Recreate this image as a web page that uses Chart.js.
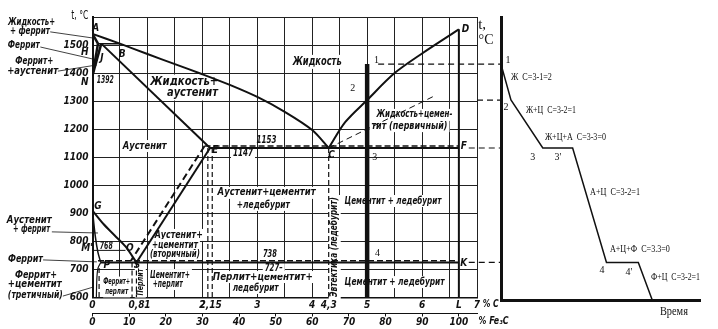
<!DOCTYPE html>
<html>
<head>
<meta charset="utf-8">
<script src="https://cdn.jsdelivr.net/npm/chart.js@4.4.1/dist/chart.umd.min.js"></script>
<style>
html, body { margin: 0; padding: 0; background: #fff; }
#wrap { position: relative; width: 718px; height: 329px; }
canvas { position: absolute; left: 0; top: 0; }
</style>
</head>
<body>
<div id="wrap">
  <canvas id="diagram" width="718" height="329"></canvas>
  <canvas id="cooling" width="718" height="329"></canvas>
</div>
<script>
// phase lines of the Fe-Fe3C diagram, [% C, t °C]
var liquidusAC = [[0,1540],[0.5,1505],[1,1468],[1.5,1432],[2,1396],[2.5,1358],[3,1315],[3.5,1262],[4,1197],[4.3,1133]];
var liquidusCD = [[4.3,1133],[4.6,1225],[5,1304],[5.5,1400],[6,1470],[6.67,1556]];
var graphiteCD = [[4.3,1133],[6.26,1322]];
var solidusJE = [[0.16,1505],[2.14,1133]];
var peritectic = [[0.1,1505],[0.51,1505]];
var deltaAH = [[0,1540],[0.1,1505]];
var deltaHN = [[0.1,1505],[0,1392]];
var deltaJN = [[0.16,1505],[0,1392]];
var lineES = [[2.14,1133],[0.8,725]];
var lineES2 = [[2.04,1140],[0.7,731]];
var lineGS = [[0,910],[0.2,862],[0.4,822],[0.6,782],[0.8,725]];
var lineGP = [[0,910],[0.05,820],[0.1,760],[0.15,725]];
var linePQ = [[0.15,725],[0.1,705],[0.08,670],[0.07,600]];
var lineMO = [[0,768],[0.6,768]];
var eutectic = [[2.14,1133],[6.67,1133]];
var eutectic2 = [[2.04,1140],[6.67,1140]];
var eutectoid = [[0.15,725],[6.67,725]];
var eutectoid2 = [[0.1,731],[6.67,731]];
var lineDL = [[6.67,1556],[6.67,600]];
var dashedVerticals = [
  [[2.1,1133],[2.1,600]], [[2.18,1133],[2.18,600]], [[4.3,1133],[4.3,600]],
  [[0.12,705],[0.12,600]], [[0.72,725],[0.72,600]], [[0.8,725],[0.8,600]]
];

// alloy 5 % C and its cooling points
var alloyC = 5;
var alloyLine = [[alloyC,1432],[alloyC,600]];
var connectors = [
  [[5.2,1432],[7.43,1432]], [[7,1304],[7.43,1304]],
  [[6.85,1133],[7.43,1133]], [[6.85,725],[7.43,725]]
];

// leader lines of the left side captions
var leaders = [
  [[-0.77,1547],[0.01,1525]], [[-0.95,1493],[0.01,1450]], [[-0.63,1407],[0.08,1429]],
  [[-0.74,834],[0.1,830]], [[-0.9,734],[0.08,727]], [[-0.54,605],[0.01,637]]
];

// cooling curve
var coolTime = [0, 5, 21, 36, 53, 69, 76];
var coolTemp = [1432, 1304, 1133, 1133, 725, 725, 591];

// axes
var gridC = [0,0.5,1,1.5,2,2.5,3,3.5,4,4.5,5,5.5,6,6.5,7];
var tickC = [0,0.8,1,2,2.15,3,4,4.3,5,6,6.67,7];
var tickLabelC = ['0','0,8','1','2','2,15','3','4','4,3','5','6','L','7'];
var tickFe3C = [0,10,20,30,40,50,60,70,80,90,100];
var tickT = [600,700,800,900,1000,1100,1200,1300,1400,1500,1600];

var sansFam = '"Liberation Sans Narrow","DejaVu Sans Condensed","Liberation Sans",Arial,sans-serif';
var serifFam = '"Liberation Serif","DejaVu Serif",serif';

// captions: text, %C, t, target width, size, white box, rotated
var diagramTexts = [
  {t:'Жидкость+', x:-1.11, y:1582, w:47},
  {t:'+ феррит', x:-1.14, y:1547, w:40},
  {t:'Феррит', x:-1.25, y:1500, w:32},
  {t:'Феррит+', x:-1.06, y:1440, w:38},
  {t:'+аустенит', x:-1.09, y:1407, w:51},
  {t:'Аустенит', x:-1.15, y:876, w:45},
  {t:'+ феррит', x:-1.11, y:841, w:37},
  {t:'Феррит', x:-1.22, y:737, w:35},
  {t:'Феррит+', x:-1.03, y:680, w:42},
  {t:'+цементит', x:-1.05, y:645, w:54},
  {t:'(третичный)', x:-1.04, y:609, w:55},
  {t:'H', x:-0.14, y:1472},
  {t:'N', x:-0.14, y:1368},
  {t:"M'", x:-0.1, y:776},
  {t:'t, °C', x:-0.23, y:1604, w:17, size:12, plain:true},
  {t:'A', x:0.06, y:1561},
  {t:'B', x:0.54, y:1465},
  {t:'J', x:0.17, y:1454},
  {t:'1392', x:0.23, y:1375, w:17},
  {t:'Жидкость+', x:1.67, y:1368, w:68, size:13, box:true},
  {t:'аустенит', x:1.82, y:1329, w:51, size:13, box:true},
  {t:'Жидкость', x:4.09, y:1440, w:49, size:12, box:true},
  {t:'Аустенит', x:0.95, y:1140, w:44, box:true},
  {t:'E', x:2.23, y:1124},
  {t:'C', x:4.35, y:1106},
  {t:'1153', x:3.17, y:1161, w:20},
  {t:'1147', x:2.74, y:1115, w:20, box:true},
  {t:'F', x:6.76, y:1137},
  {t:'D', x:6.79, y:1554},
  {t:'Жидкость+цемен-', x:5.86, y:1251, w:76, box:true},
  {t:'тит (первичный)', x:5.77, y:1211, w:76, box:true},
  {t:'1', x:5.17, y:1447, plain:true, serif:true},
  {t:'2', x:4.74, y:1347, plain:true, serif:true},
  {t:'3', x:5.14, y:1101, plain:true, serif:true},
  {t:'4', x:5.19, y:759, plain:true, serif:true},
  {t:'Аустенит+цементит', x:3.17, y:973, w:98, box:true},
  {t:'+ледебурит', x:3.11, y:930, w:53, box:true},
  {t:'Цементит + ледебурит', x:5.47, y:944, w:97, box:true},
  {t:'Цементит + ледебурит', x:5.5, y:655, w:100, box:true},
  {t:'Эвтектика (ледебурит)', x:4.41, y:780, w:100, size:10, rot:true, box:true},
  {t:'Перлит+цементит+', x:3.1, y:673, w:100, box:true},
  {t:'ледебурит', x:2.97, y:634, w:46, box:true},
  {t:'738', x:3.23, y:755, w:14},
  {t:'727–', x:3.3, y:702, w:18, box:true},
  {t:'K', x:6.76, y:723},
  {t:'Аустенит+', x:1.57, y:823, w:48, box:true},
  {t:'+цементит', x:1.5, y:787, w:46, box:true},
  {t:'(вторичный)', x:1.5, y:752, w:50, box:true},
  {t:'Цементит+', x:1.41, y:680, w:40, box:true},
  {t:'+перлит', x:1.37, y:648, w:30, box:true},
  {t:'Феррит+', x:0.44, y:655, w:27, size:9, box:true},
  {t:'перлит', x:0.44, y:620, w:23, size:9, box:true},
  {t:'Перлит', x:0.87, y:655, w:27, size:9, rot:true, box:true},
  {t:'G', x:0.1, y:923},
  {t:'768', x:0.25, y:781, w:13},
  {t:'O', x:0.68, y:775},
  {t:'P', x:0.26, y:716},
  {t:'S', x:0.81, y:714},
  {t:'% C', x:7.25, y:574, w:16, size:10},
  {t:'% Fe₃C', x:7.3, y:513, w:30, size:10}
];

var coolingTexts = [
  {t:'t,', x:-9.5, y:1571, size:15},
  {t:'°C', x:-7.5, y:1518, size:14},
  {t:'1', x:3.5, y:1447},
  {t:'2', x:2.5, y:1276},
  {t:'3', x:16, y:1101},
  {t:"3'", x:28.6, y:1101},
  {t:'4', x:50.8, y:695},
  {t:"4'", x:64.3, y:691},
  {t:'Ж  С=3-1=2', x:15.3, y:1383, w:41},
  {t:'Ж+Ц  С=3-2=1', x:25.1, y:1268, w:50},
  {t:'Ж+Ц+А  С=3-3=0', x:37.4, y:1172, w:61},
  {t:'А+Ц  С=3-2=1', x:57.3, y:973, w:50},
  {t:'А+Ц+Ф  С=3.3=0', x:69.8, y:773, w:60},
  {t:'Ф+Ц  С=3-2=1', x:87.7, y:673, w:49},
  {t:'Время', x:86.9, y:548, w:28, size:12}
];

function pts(arr) { return arr.map(function(p) { return {x: p[0], y: p[1]}; }); }

function line(arr, w, dash, extra) {
  return Object.assign({
    data: pts(arr), showLine: true, borderColor: '#111', borderWidth: w,
    borderDash: dash || [], pointRadius: 0, fill: false, tension: 0
  }, extra || {});
}

function textPlugin(items, xId, yId, serifDefault, hook) {
  var p = { id: 'texts' + hook };
  p[hook] = function(chart) {
    var ctx = chart.ctx, xs = chart.scales[xId], ys = chart.scales[yId];
    items.forEach(function(it) {
      var px = xs.getPixelForValue(it.x), py = ys.getPixelForValue(it.y);
      var size = it.size || 10;
      var serif = serifDefault || it.serif;
      var style = serif || it.plain ? '' : 'italic bold ';
      ctx.save();
      ctx.font = style + size + 'px ' + (serif ? serifFam : sansFam);
      var mw = ctx.measureText(it.t).width;
      var sx = it.w ? it.w / mw : 1;
      ctx.translate(px, py);
      if (it.rot) ctx.rotate(-Math.PI / 2);
      if (it.box) {
        ctx.fillStyle = '#fff';
        ctx.fillRect(-mw * sx / 2 - 2, -size / 2 - 1, mw * sx + 4, size + 2);
      }
      ctx.scale(sx, 1);
      ctx.fillStyle = '#111';
      ctx.textAlign = 'center';
      ctx.textBaseline = 'middle';
      ctx.fillText(it.t, 0, 0);
      ctx.restore();
    });
  };
  return p;
}

var tickFont = { family: sansFam, style: 'italic', weight: 'bold', size: 10 };
var allTicksC = gridC.concat(tickC).filter(function(v, i, a) { return a.indexOf(v) === i; }).sort(function(a, b) { return a - b; });

var datasets = [
  line(liquidusAC, 2, null, {tension: 0.3}),
  line(liquidusCD, 2, null, {tension: 0.3}),
  line(graphiteCD, 1, [6, 4]),
  line(solidusJE, 2),
  line(peritectic, 1.5),
  line(deltaAH, 2.5),
  line(deltaHN, 2.5),
  line(deltaJN, 2.5),
  line(lineES, 2),
  line(lineES2, 2, [7, 4]),
  line(lineGS, 2, null, {tension: 0.3}),
  line(lineGP, 1.5, null, {tension: 0.3}),
  line(linePQ, 1.2, null, {tension: 0.3}),
  line(lineMO, 1),
  line(eutectic, 2),
  line(eutectic2, 1.5, [6, 3]),
  line(eutectoid, 2),
  line(eutectoid2, 1.5, [6, 3]),
  line(lineDL, 2),
  line(alloyLine, 4.5)
];
dashedVerticals.forEach(function(d) { datasets.push(line(d, 1.2, [5, 3])); });
connectors.forEach(function(d) { datasets.push(line(d, 1.2, [6, 4], {clip: false})); });
leaders.forEach(function(d) { datasets.push(line(d, 0.8, null, {clip: false})); });

new Chart(document.getElementById('diagram').getContext('2d'), {
  type: 'scatter',
  data: { datasets: datasets },
  options: {
    responsive: false,
    animation: false,
    devicePixelRatio: 1,
    events: [],
    layout: { padding: { left: 0, top: 17, right: 241, bottom: 0 } },
    plugins: { legend: { display: false }, tooltip: { enabled: false } },
    scales: {
      x: {
        type: 'linear', position: 'bottom', min: 0, max: 7, weight: 0,
        afterBuildTicks: function(s) { s.ticks = allTicksC.map(function(v) { return {value: v}; }); },
        afterFit: function(s) { s.height = 16; },
        ticks: {
          autoSkip: false, maxRotation: 0, padding: 2, color: '#111', font: tickFont,
          callback: function(v) { var i = tickC.indexOf(v); return i >= 0 ? tickLabelC[i] : ''; }
        },
        grid: {
          drawTicks: false, lineWidth: 1,
          color: function(c) { return c.tick && gridC.indexOf(c.tick.value) >= 0 ? '#222' : 'rgba(0,0,0,0)'; }
        },
        border: { display: true, color: '#111', width: 1.5 }
      },
      x2: {
        type: 'linear', position: 'bottom', min: 0, max: 7 / 6.67 * 100, weight: 1,
        afterBuildTicks: function(s) { s.ticks = tickFe3C.map(function(v) { return {value: v}; }); },
        afterFit: function(s) { s.height = 15.5; },
        ticks: { autoSkip: false, maxRotation: 0, padding: 0, color: '#111', font: tickFont },
        grid: { drawOnChartArea: false, drawTicks: true, tickLength: 3, color: '#111' },
        border: { display: true, color: '#111', width: 1 }
      },
      y: {
        type: 'linear', min: 600, max: 1600,
        afterBuildTicks: function(s) { s.ticks = tickT.map(function(v) { return {value: v}; }); },
        afterFit: function(s) { s.width = 92.5; },
        ticks: {
          padding: 4, color: '#111', font: tickFont,
          callback: function(v) { return v === 1600 ? '' : String(v); }
        },
        grid: { drawTicks: false, color: '#222', lineWidth: 1 },
        border: { display: true, color: '#111', width: 2 }
      }
    }
  },
  plugins: [textPlugin(diagramTexts, 'x', 'y', false, 'beforeDatasetsDraw')]
});

new Chart(document.getElementById('cooling').getContext('2d'), {
  type: 'scatter',
  data: {
    datasets: [{
      data: coolTime.map(function(t, i) { return {x: t, y: coolTemp[i]}; }),
      showLine: true, borderColor: '#111', borderWidth: 1.5, pointRadius: 0, fill: false, tension: 0
    }]
  },
  options: {
    responsive: false,
    animation: false,
    devicePixelRatio: 1,
    events: [],
    layout: { padding: { left: 0, top: 17, right: 18, bottom: 0 } },
    plugins: { legend: { display: false }, tooltip: { enabled: false } },
    scales: {
      x: {
        type: 'linear', min: 0, max: 100,
        afterFit: function(s) { s.height = 29; },
        ticks: { display: false },
        grid: { display: false },
        border: { display: true, color: '#111', width: 3 }
      },
      y: {
        type: 'linear', min: 591, max: 1600,
        afterFit: function(s) { s.width = 501; },
        ticks: { display: false },
        grid: { display: false },
        border: { display: true, color: '#111', width: 3 }
      }
    }
  },
  plugins: [textPlugin(coolingTexts, 'x', 'y', true, 'afterDatasetsDraw')]
});
</script>
</body>
</html>
